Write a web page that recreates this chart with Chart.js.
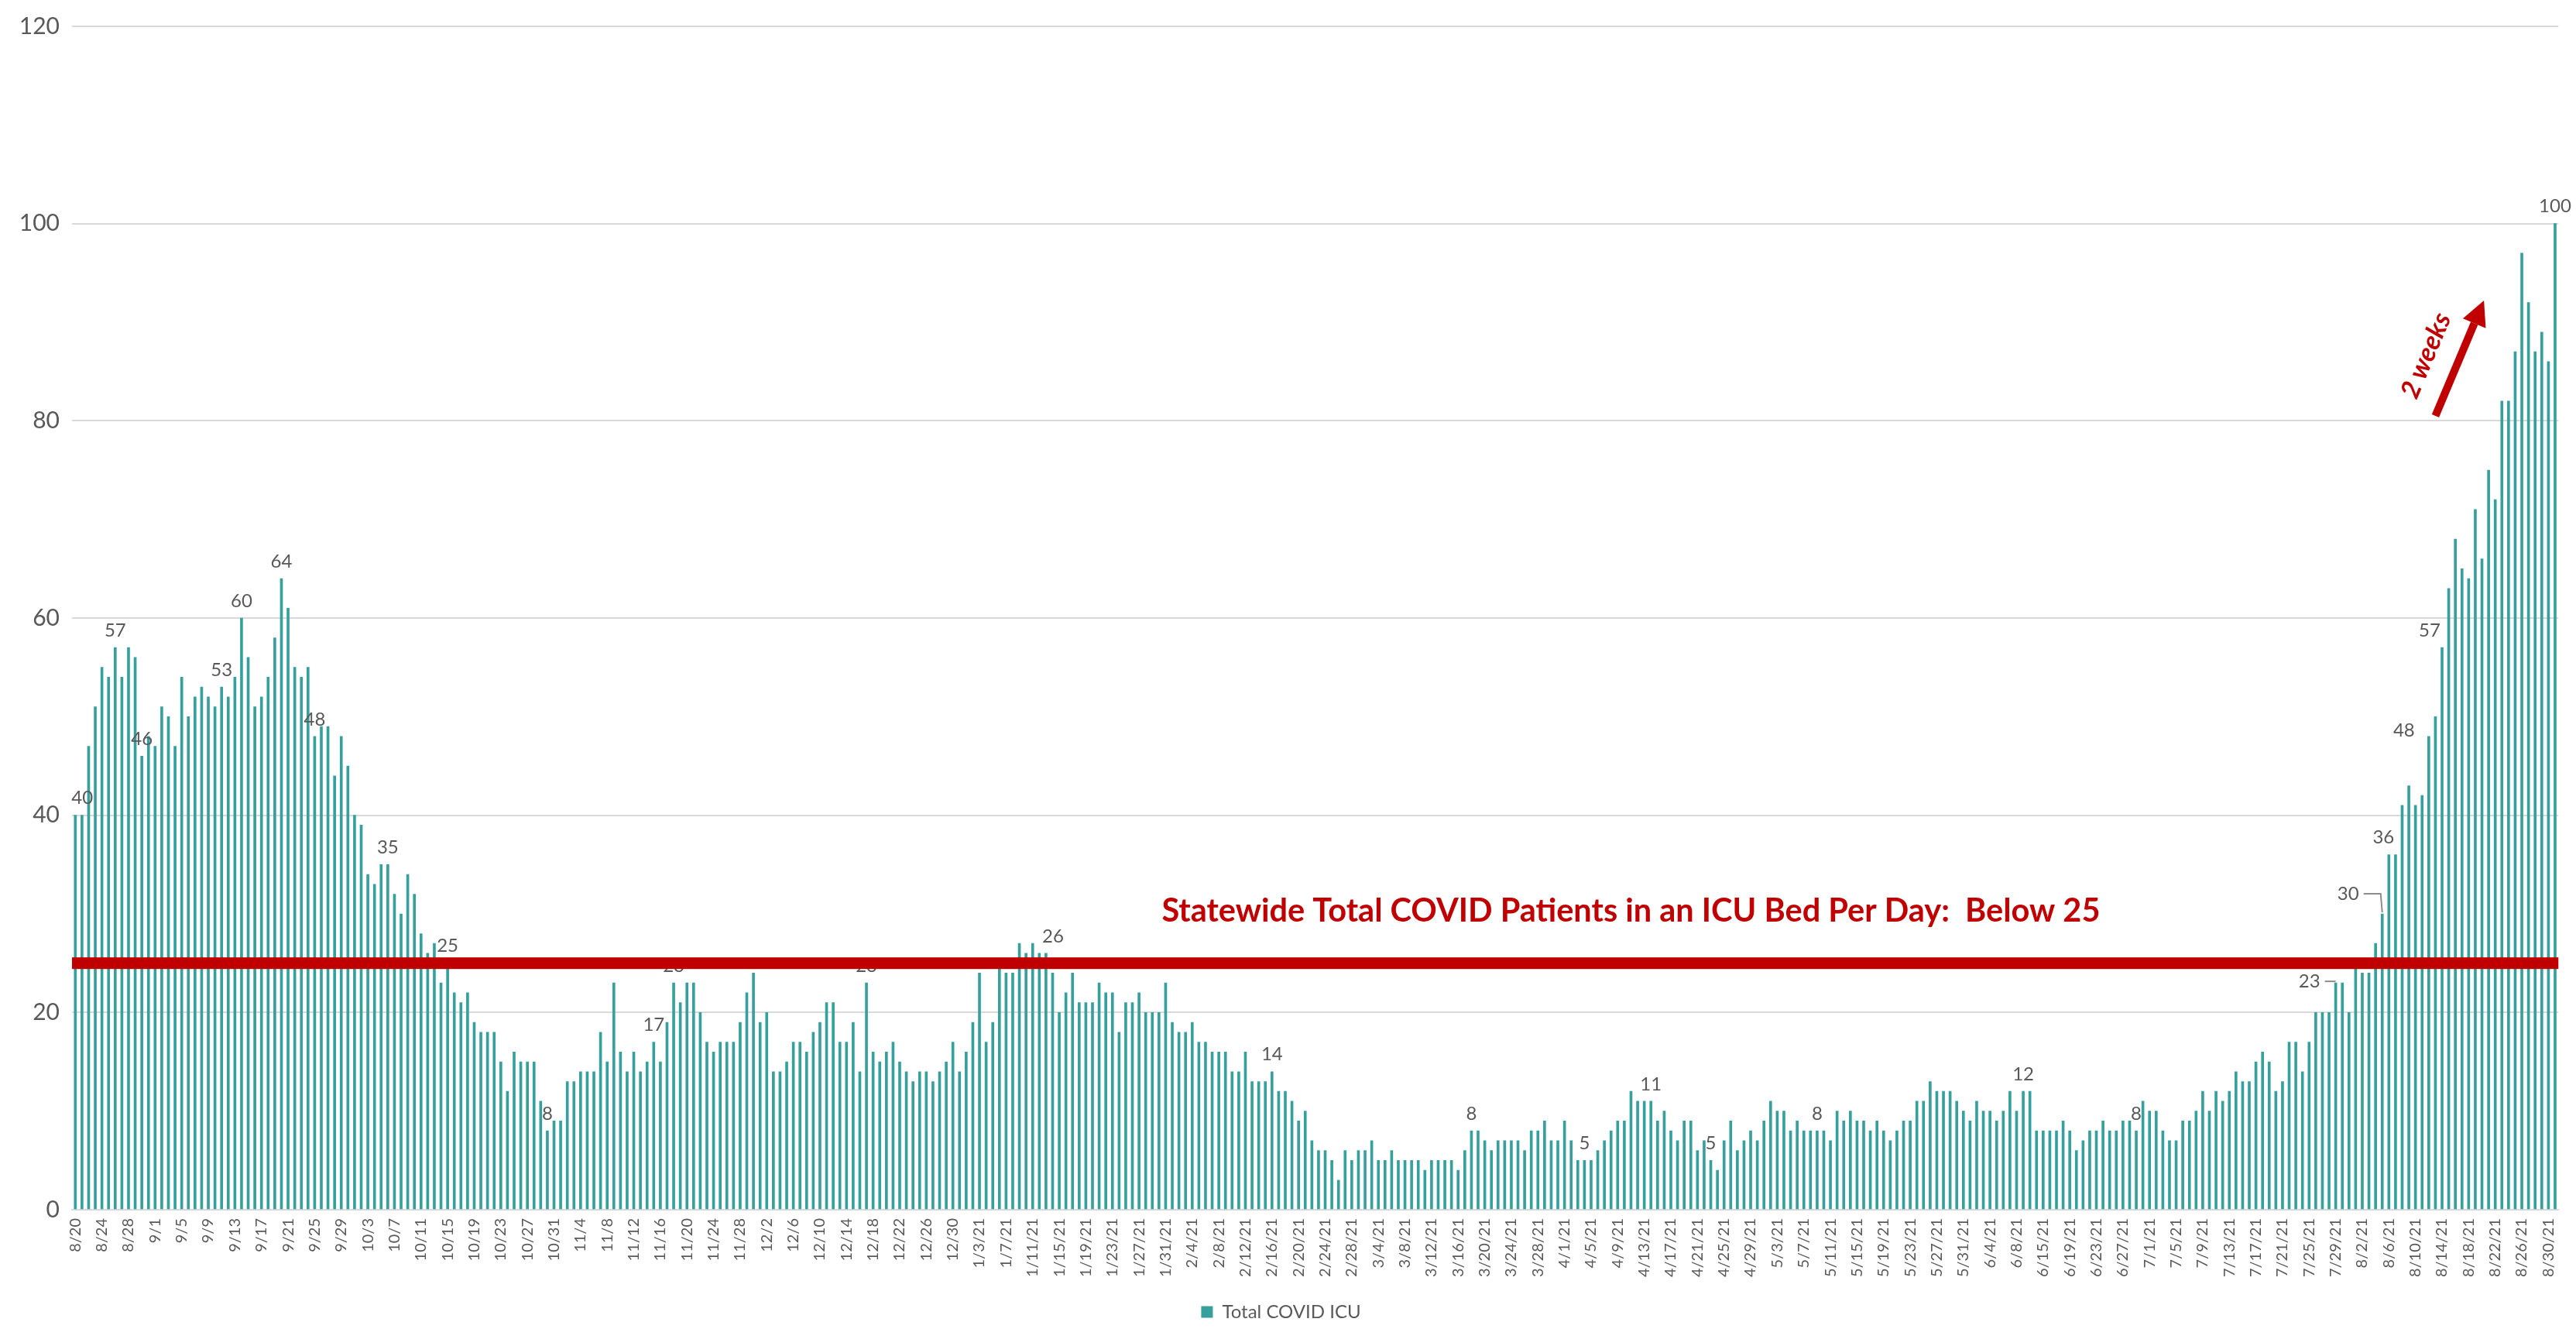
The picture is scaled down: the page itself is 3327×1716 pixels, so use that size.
<!DOCTYPE html>
<html>
<head>
<meta charset="utf-8">
<script src="https://cdn.jsdelivr.net/npm/chart.js@4.4.0/dist/chart.umd.min.js"></script>
<style>
  html, body { margin: 0; padding: 0; background: #fff; }
  #wrap { width: 3327px; height: 1716px; }
</style>
</head>
<body>
<div id="wrap"><canvas id="icuChart" width="3327" height="1716"></canvas></div>
<script>
// daily statewide COVID patients in an ICU bed
const icuValues = [
  40, 40, 47, 51, 55, 54, 57, 54, 57, 56, 46, 48, 47, 51, 50, 47, 54, 50, 52, 53,
  52, 51, 53, 52, 54, 60, 56, 51, 52, 54, 58, 64, 61, 55, 54, 55, 48, 49, 49, 44,
  48, 45, 40, 39, 34, 33, 35, 35, 32, 30, 34, 32, 28, 26, 27, 23, 25, 22, 21, 22,
  19, 18, 18, 18, 15, 12, 16, 15, 15, 15, 11, 8, 9, 9, 13, 13, 14, 14, 14, 18,
  15, 23, 16, 14, 16, 14, 15, 17, 15, 19, 23, 21, 23, 23, 20, 17, 16, 17, 17, 17,
  19, 22, 24, 19, 20, 14, 14, 15, 17, 17, 16, 18, 19, 21, 21, 17, 17, 19, 14, 23,
  16, 15, 16, 17, 15, 14, 13, 14, 14, 13, 14, 15, 17, 14, 16, 19, 24, 17, 19, 25,
  24, 24, 27, 26, 27, 26, 26, 24, 20, 22, 24, 21, 21, 21, 23, 22, 22, 18, 21, 21,
  22, 20, 20, 20, 23, 19, 18, 18, 19, 17, 17, 16, 16, 16, 14, 14, 16, 13, 13, 13,
  14, 12, 12, 11, 9, 10, 7, 6, 6, 5, 3, 6, 5, 6, 6, 7, 5, 5, 6, 5,
  5, 5, 5, 4, 5, 5, 5, 5, 4, 6, 8, 8, 7, 6, 7, 7, 7, 7, 6, 8,
  8, 9, 7, 7, 9, 7, 5, 5, 5, 6, 7, 8, 9, 9, 12, 11, 11, 11, 9, 10,
  8, 7, 9, 9, 6, 7, 5, 4, 7, 9, 6, 7, 8, 7, 9, 11, 10, 10, 8, 9,
  8, 8, 8, 8, 7, 10, 9, 10, 9, 9, 8, 9, 8, 7, 8, 9, 9, 11, 11, 13,
  12, 12, 12, 11, 10, 9, 11, 10, 10, 9, 10, 12, 10, 12, 12, 8, 8, 8, 8, 9,
  8, 6, 7, 8, 8, 9, 8, 8, 9, 9, 8, 11, 10, 10, 8, 7, 7, 9, 9, 10,
  12, 10, 12, 11, 12, 14, 13, 13, 15, 16, 15, 12, 13, 17, 17, 14, 17, 20, 20, 20,
  23, 23, 20, 25, 24, 24, 27, 30, 36, 36, 41, 43, 41, 42, 48, 50, 57, 63, 68, 65,
  64, 71, 66, 75, 72, 82, 82, 87, 97, 92, 87, 89, 86, 100
];

// day labels: 8/20/2020 onwards, a few June days have no report
const firstDay = [2020, 7, 20];
const skippedDays = ['6/12/21', '6/13/21', '6/14/21'];
const dayLabels = [];
(function () {
  const d = new Date(firstDay[0], firstDay[1], firstDay[2]);
  while (dayLabels.length < icuValues.length) {
    let s = (d.getMonth() + 1) + '/' + d.getDate();
    if (d.getFullYear() > 2020) s += '/' + String(d.getFullYear()).slice(2);
    if (!skippedDays.includes(s)) dayLabels.push(s);
    d.setDate(d.getDate() + 1);
  }
})();

const yTicks = [0, 20, 40, 60, 80, 100, 120];
const thresholdValue = 25;
const thresholdText = 'Statewide Total COVID Patients in an ICU Bed Per Day:  Below 25';
const noteText = '2 weeks';

// bars that carry a value label
const labeledBars = [0, 6, 10, 22, 25, 31, 36, 47, 56, 71, 87, 90, 119, 146, 180, 210, 227, 237, 246, 262, 293, 310, 340, 347, 348, 354, 356, 373];
// label nudges in px [dx, dy]
const labelNudge = { 0: [9, 0], 146: [9, 0], 340: [-34, 20], 347: [-44, -4], 348: [-7, 0], 354: [-32, 14], 356: [-16, 0] };
const leaderBars = [340, 347];

const red = '#c00000';
const gray = '#595959';

const overlay = {
  id: 'overlay',
  afterDatasetsDraw(chart) {
    const { ctx, chartArea, scales } = chart;
    const xs = scales.x, ys = scales.y;
    ctx.save();

    // value labels
    ctx.font = '24px Lato';
    ctx.fillStyle = gray;
    ctx.textAlign = 'center';
    ctx.textBaseline = 'middle';
    labeledBars.forEach(i => {
      const n = labelNudge[i] || [0, 0];
      const bx = xs.getPixelForValue(i);
      const by = ys.getPixelForValue(icuValues[i]);
      const lx = bx + n[0], ly = by - 22 + n[1];
      ctx.fillText(String(icuValues[i]), lx, ly);
      if (leaderBars.includes(i)) {
        ctx.strokeStyle = '#8c8c8c';
        ctx.lineWidth = 2;
        ctx.beginPath();
        ctx.moveTo(lx + 20, ly);
        ctx.lineTo(bx - 2, ly);
        ctx.lineTo(bx, by - 2);
        ctx.stroke();
      }
    });

    // threshold bar at 25
    const ty = ys.getPixelForValue(thresholdValue);
    ctx.fillStyle = red;
    ctx.fillRect(chartArea.left, ty - 7.5, chartArea.right - chartArea.left, 15);

    // threshold caption
    let fs = 40;
    ctx.font = 'bold ' + fs + 'px Lato';
    const w = ctx.measureText(thresholdText).width;
    fs = fs * 1213 / w;
    ctx.font = 'bold ' + fs.toFixed(1) + 'px Lato';
    ctx.textAlign = 'center';
    ctx.textBaseline = 'middle';
    ctx.fillText(thresholdText, xs.getPixelForValue(234), ys.getPixelForValue(30.3));

    // "2 weeks" arrow
    const x1 = xs.getPixelForValue(355), y1 = ys.getPixelForValue(80.5);
    const x2 = xs.getPixelForValue(362.3), y2 = ys.getPixelForValue(92.2);
    const ang = Math.atan2(y2 - y1, x2 - x1);
    const headLen = 32, headW = 16;
    const hx = x2 - headLen * Math.cos(ang), hy = y2 - headLen * Math.sin(ang);
    ctx.strokeStyle = red;
    ctx.lineWidth = 10;
    ctx.beginPath();
    ctx.moveTo(x1, y1);
    ctx.lineTo(hx, hy);
    ctx.stroke();
    ctx.beginPath();
    ctx.moveTo(x2, y2);
    ctx.lineTo(hx + headW * Math.sin(ang), hy - headW * Math.cos(ang));
    ctx.lineTo(hx - headW * Math.sin(ang), hy + headW * Math.cos(ang));
    ctx.closePath();
    ctx.fill();

    ctx.translate(xs.getPixelForValue(353.6), ys.getPixelForValue(86.6));
    ctx.rotate(ang);
    ctx.font = 'italic bold 34px Lato';
    ctx.fillText(noteText, 0, 0);
    ctx.restore();
  }
};

const ctx = document.getElementById('icuChart').getContext('2d');
const icuChart = new Chart(ctx, {
  type: 'bar',
  data: {
    labels: dayLabels,
    datasets: [{
      label: 'Total COVID ICU',
      data: icuValues,
      backgroundColor: '#36a09c',
      barThickness: 3
    }]
  },
  options: {
    responsive: false,
    animation: false,
    devicePixelRatio: 1,
    layout: { padding: { left: 0, right: 18, top: 25, bottom: 0 } },
    plugins: {
      legend: {
        position: 'bottom',
        labels: { font: { size: 24, family: 'Lato' }, color: gray, boxWidth: 15, boxHeight: 15, padding: 8 }
      },
      tooltip: { enabled: false }
    },
    scales: {
      x: {
        grid: { display: false },
        border: { color: '#d9d9d9', width: 2 },
        ticks: {
          autoSkip: false,
          maxRotation: 90,
          minRotation: 90,
          font: { size: 20, family: 'Lato' },
          color: gray,
          callback: (v, i) => (i % 4 === 0 ? dayLabels[i] : '')
        },
        afterFit: s => { s.height = 112; }
      },
      y: {
        min: yTicks[0],
        max: yTicks[yTicks.length - 1],
        afterBuildTicks: s => { s.ticks = yTicks.map(v => ({ value: v })); },
        ticks: { font: { size: 30, family: 'Lato' }, color: gray, padding: 16 },
        grid: { color: '#d9d9d9', lineWidth: 2, drawTicks: false },
        border: { display: false },
        afterFit: s => { s.width = 93; }
      }
    }
  },
  plugins: [overlay]
});
</script>
</body>
</html>
